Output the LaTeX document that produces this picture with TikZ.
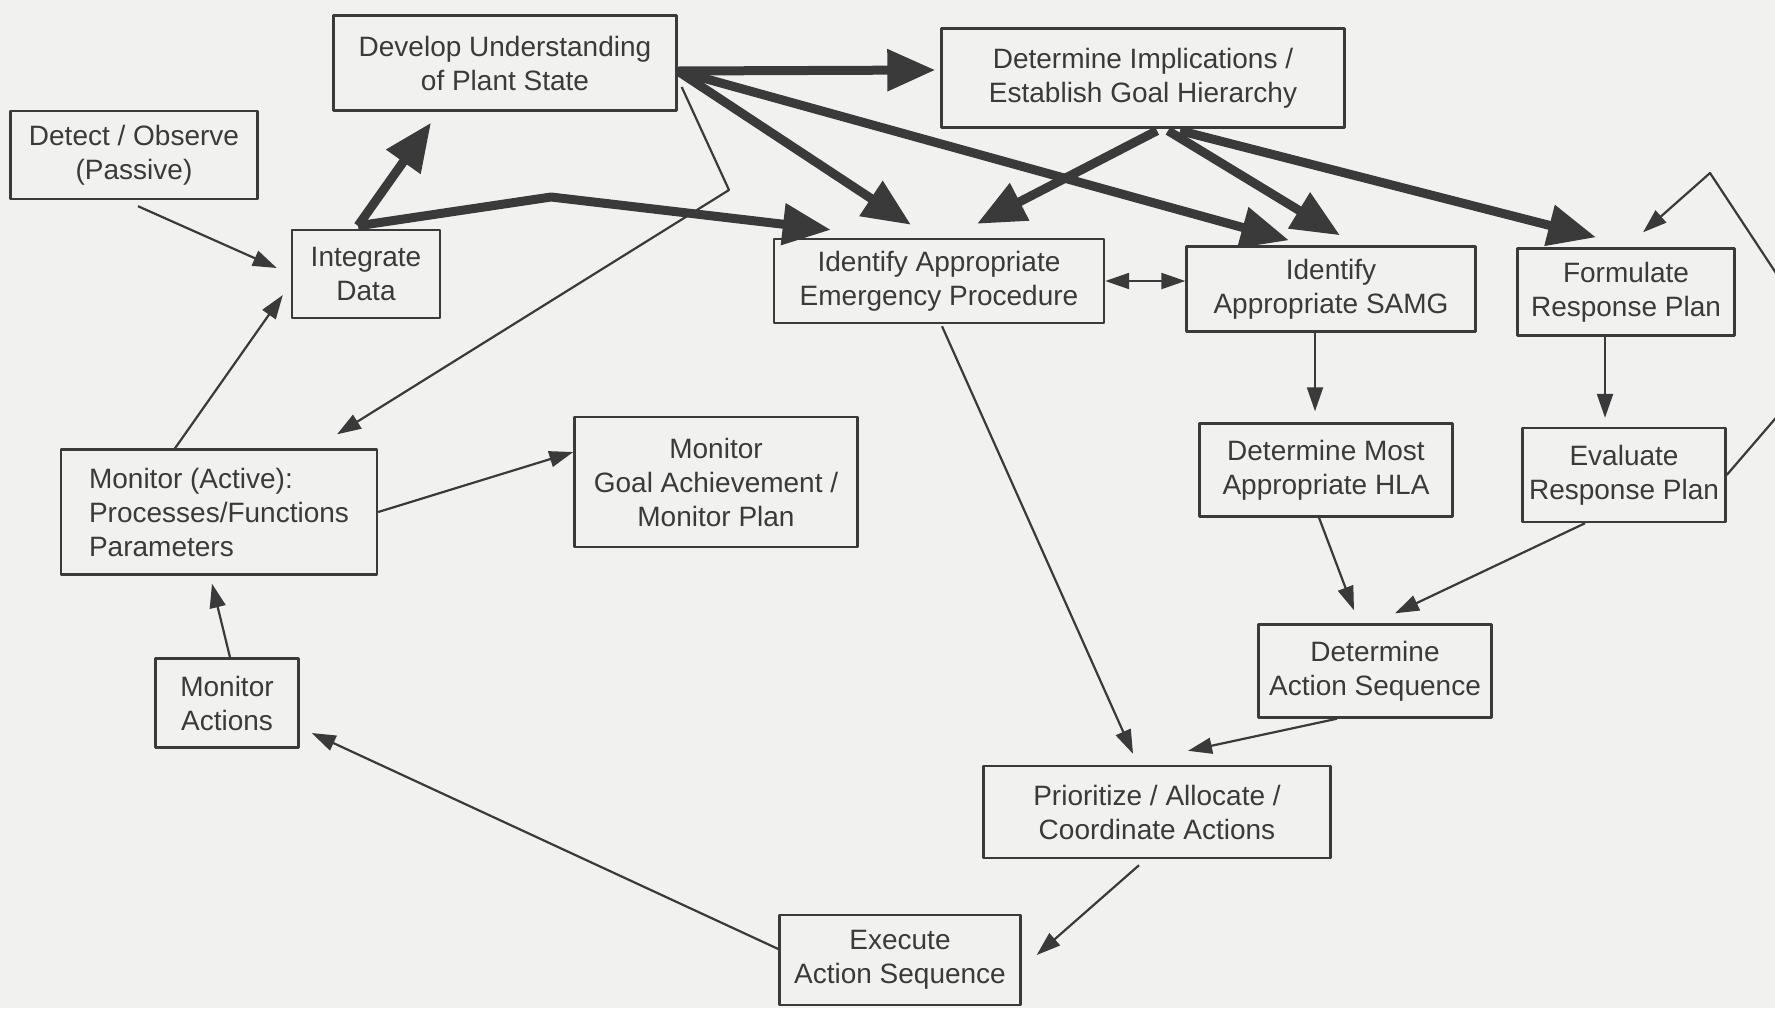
\documentclass[tikz,border=0pt]{standalone}
\usepackage{fontspec}
\setmainfont{Liberation Sans}
\usetikzlibrary{arrows.meta,calc}
\definecolor{paper}{HTML}{F1F1EF}
\definecolor{ink}{HTML}{3A3A3A}
\tikzset{
  thintip/.tip={Triangle[length=12pt,width=8pt]},
  fattip/.tip={Triangle[length=24pt,width=20pt]}
}
\begin{document}
\begin{tikzpicture}[x=0.5pt,y=-0.5pt, font=\fontsize{14}{17}\selectfont, line join=round,
    box/.style={draw=ink, line width=1.2pt, text=ink, align=center, inner sep=0pt},
    flow/.style={draw=ink, line width=1.1pt, -thintip},
    mainflow/.style={draw=ink, line width=4.5pt, -fattip}]
	\clip (0,0) rectangle (1775,1008);
	\fill[paper] (0,0) rectangle (1775,1008);
	% boxes
	\node[box, minimum width=171.5pt, minimum height=47.5pt] (dev) at (505,63) {Develop Understanding\\of Plant State};
	\node[box, minimum width=201.5pt, minimum height=49.5pt] (impl) at (1143,78) {Determine Implications /\\Establish Goal Hierarchy};
	\node[box, minimum width=123.5pt, minimum height=44pt] (det) at (134,155) {Detect / Observe\\(Passive)};
	\node[box, minimum width=74pt, minimum height=44pt] (integ) at (366,274) {Integrate\\Data};
	\node[box, minimum width=165pt, minimum height=42pt] (iep) at (939,281) {Identify Appropriate\\Emergency Procedure};
	\node[box, minimum width=144.5pt, minimum height=42.5pt] (samg) at (1331,289) {Identify\\Appropriate SAMG};
	\node[box, minimum width=108.5pt, minimum height=43.5pt] (form) at (1626,292) {Formulate\\Response Plan};
	\node[box, minimum width=126.5pt, minimum height=46.5pt] (hla) at (1326,470) {Determine Most\\Appropriate HLA};
	\node[box, minimum width=101.5pt, minimum height=47pt] (eval) at (1624,475) {Evaluate\\Response Plan};
	\node[box, align=left, minimum width=158pt, minimum height=62.5pt] (mona) at (219,512) {Monitor (Active):\\Processes/Functions\\Parameters};
	\node[box, minimum width=141.5pt, minimum height=65pt] (mgoal) at (716,482) {Monitor\\Goal Achievement /\\Monitor Plan};
	\node[box, minimum width=116.5pt, minimum height=46.5pt] (aseq) at (1375,671) {Determine\\Action Sequence};
	\node[box, minimum width=71.5pt, minimum height=44.5pt] (mact) at (227,703) {Monitor\\Actions};
	\node[box, minimum width=173.5pt, minimum height=46pt] (prio) at (1157,812) {Prioritize / Allocate /\\Coordinate Actions};
	\node[box, minimum width=120.5pt, minimum height=45pt] (exec) at (900,960) {Execute\\Action Sequence};
	\coordinate (bend) at (551,197);
	\coordinate (kink) at (729,190);
	\coordinate (loopr) at (1830,355);
	\coordinate (loopt) at (1710,173);
	% heavy arrows
	\draw[mainflow] ($(dev.east)+(0,8)$) -- ($(impl.west)+(-5,-8)$);
	\draw[mainflow] ($(dev.east)+(0,8)$) -- ($(iep.north)+(-28,-13)$);
	\draw[mainflow] ($(dev.east)+(0,8)$) -- ($(samg.north)+(-42,-5)$);
	\draw[mainflow] ($(integ.north)+(-8,-3)$) -- ($(dev.south)+(-74,11)$);
	\draw[mainflow] ($(integ.north)+(-8,-3)$) -- (bend) -- ($(iep.north west)+(58,-8)$);
	\draw[mainflow] ($(impl.south)+(14,2)$) -- ($(iep.north)+(38,-14)$);
	\draw[mainflow] ($(impl.south)+(25,2)$) -- ($(samg.north)+(9,-10)$);
	\draw[mainflow] ($(impl.south)+(37,2)$) -- ($(form.north)+(-30,-10)$);
	% light arrows
	\draw[flow] ($(det.south)+(4,6)$) -- ($(integ.west)+(-14,-6)$);
	\draw[flow] ($(mona.north)+(-44,0)$) -- ($(integ.west)+(-8,21)$);
	\draw[flow] ($(dev.east)+(4,24)$) -- (kink) -- ($(mona.north)+(118,-14)$);
	\draw[flow] (mona.east) -- ($(mgoal.west)+(0,-30)$);
	\draw[flow] ($(mact.north)+(3,0)$) -- ($(mona.south)+(-7,8)$);
	\draw[flow] ($(exec.west)+(0,-11)$) -- ($(mact.east)+(12,30)$);
	\draw[flow] ($(prio.south)+(-18,6)$) -- ($(exec.east)+(15,-5)$);
	\draw[flow] ($(iep.south)+(3,2)$) -- ($(prio.north)+(-24,-11)$);
	\draw[flow] ($(aseq.south)+(-38,0)$) -- ($(prio.north)+(31,-14)$);
	\draw[flow] ($(hla.south)+(-7,0)$) -- ($(aseq.north)+(-21,-13)$);
	\draw[flow] ($(eval.south)+(-39,0)$) -- ($(aseq.north)+(20,-10)$);
	\draw[flow] ($(samg.south)+(-16,0)$) -- ($(hla.north)+(-11,-11)$);
	\draw[flow] ($(form.south)+(-21,0)$) -- ($(eval.north)+(-19,-9)$);
	\draw[flow] (eval.east) -- (loopr) -- (loopt) -- ($(form.north)+(17,-15)$);
	\draw[flow, thintip-thintip] (iep.east) -- (samg.west |- iep.east);
\end{tikzpicture}
\end{document}
